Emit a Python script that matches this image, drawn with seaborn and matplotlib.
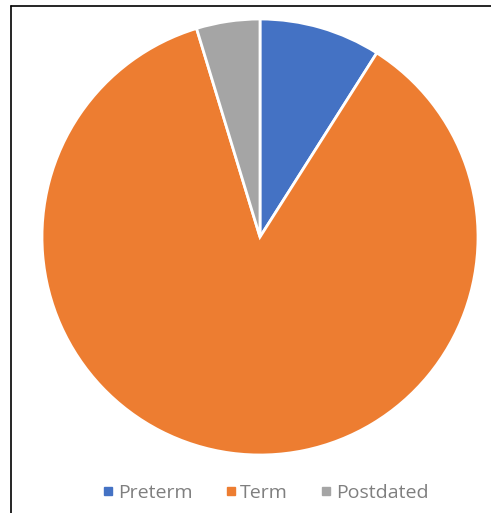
import seaborn as sns
import matplotlib.pyplot as plt
from matplotlib.lines import Line2D

# data
labels = ['Preterm', 'Term', 'Postdated']
values = [9, 86.3, 4.7]
colors = ['#4472C4', '#ED7D31', '#A5A5A5']

sns.set_style('white')
plt.rcParams['font.family'] = ['Open Sans', 'DejaVu Sans']

fig = plt.figure(figsize=(4.91, 5.13), dpi=100)
ax = fig.add_axes([42/491, 1 - 455/513, 436/491, 436/513])

ax.pie(values, colors=colors, startangle=90, counterclock=False,
       wedgeprops=dict(edgecolor='white', linewidth=2))
ax.set_xlim(-1.0, 1.0)
ax.set_ylim(-1.0, 1.0)
ax.set_aspect('equal')

# legend
handles = [Line2D([], [], marker='s', linestyle='', markersize=6,
                  markerfacecolor=c, markeredgecolor=c) for c in colors]
fig.legend(handles, labels, loc='center', bbox_to_anchor=(264/491, 1 - 493/513),
           ncol=3, frameon=False, fontsize=14, labelcolor='#7f7f7f',
           handletextpad=0.05, columnspacing=1.5, handlelength=0.9)

# frame lines (top and left) like the original screenshot
fig.add_artist(Line2D([11/491, 1], [1 - 6/513, 1 - 6/513], color='black', lw=1.2,
                      transform=fig.transFigure))
fig.add_artist(Line2D([11/491, 11/491], [0, 1 - 6/513], color='black', lw=1.2,
                      transform=fig.transFigure))

fig.savefig('out.png', dpi=100)
